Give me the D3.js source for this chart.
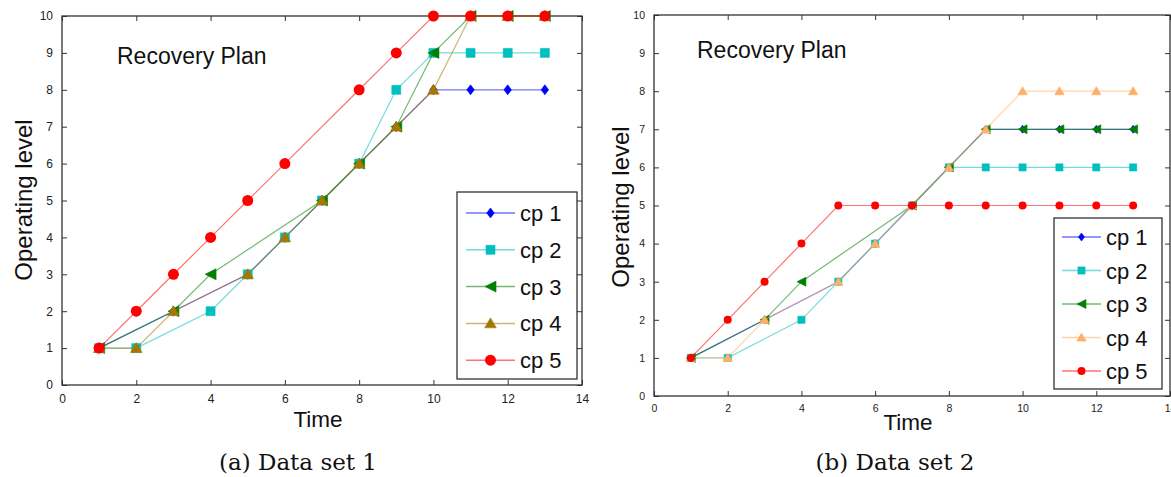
<!DOCTYPE html>
<html>
<head>
<meta charset="utf-8">
<script src="https://cdn.jsdelivr.net/npm/d3@7"></script>
<style>
  body { margin: 0; background: #fff; }
  svg { display: block; }
</style>
</head>
<body>
<script>
// time steps shared by both data sets (null = no point at that step)
var times = [1, 2, 3, 4, 5, 6, 7, 8, 9, 10, 11, 12, 13];
var seriesNames = ["cp 1", "cp 2", "cp 3", "cp 4", "cp 5"];
var xTicks = [0, 2, 4, 6, 8, 10, 12, 14];
var yTicks = [0, 1, 2, 3, 4, 5, 6, 7, 8, 9, 10];

// data set 1
var set1cp1 = [1, null, 2, null, 3, 4, 5, 6, 7, 8, 8, 8, 8];
var set1cp2 = [1, 1, null, 2, 3, 4, 5, 6, 8, 9, 9, 9, 9];
var set1cp3 = [1, null, 2, 3, null, null, 5, 6, 7, 9, 10, 10, 10];
var set1cp4 = [1, 1, 2, null, 3, 4, 5, 6, 7, 8, 10, 10, 10];
var set1cp5 = [1, 2, 3, 4, 5, 6, null, 8, 9, 10, 10, 10, 10];

// data set 2
var set2cp1 = [1, null, 2, null, 3, 4, 5, 6, 7, 7, 7, 7, 7];
var set2cp2 = [1, 1, null, 2, 3, 4, 5, 6, 6, 6, 6, 6, 6];
var set2cp3 = [1, null, 2, 3, null, null, 5, 6, 7, 7, 7, 7, 7];
var set2cp4 = [1, 1, 2, null, 3, 4, 5, 6, 7, 8, 8, 8, 8];
var set2cp5 = [1, 2, 3, 4, 5, 5, 5, 5, 5, 5, 5, 5, 5];

var shapes = ["diamond", "square", "left", "up", "circle"];

var svg = d3.select("body").append("svg")
    .attr("width", 1171)
    .attr("height", 477);

// marker path for a shape of half-size s
function markerPath(shape, s) {
  if (shape == "diamond") return "M0," + (-s) + "L" + (s * 0.75) + ",0L0," + s + "L" + (-s * 0.75) + ",0Z";
  if (shape == "square") return "M" + (-s) + "," + (-s) + "H" + s + "V" + s + "H" + (-s) + "Z";
  if (shape == "left") return "M" + (-s) + ",0L" + s + "," + (-s) + "L" + s + "," + s + "Z";
  if (shape == "up") return "M0," + (-s) + "L" + (s * 1.05) + "," + (s * 0.8) + "L" + (-s * 1.05) + "," + (s * 0.8) + "Z";
  return d3.path().toString();
}

function drawMarker(g, shape, x, y, size, color) {
  if (shape == "circle") {
    g.append("circle").attr("cx", x).attr("cy", y).attr("r", size)
     .attr("fill", color);
  } else {
    g.append("path")
     .attr("d", markerPath(shape, size))
     .attr("transform", "translate(" + x + "," + y + ")")
     .attr("fill", color)
     .attr("stroke", color).attr("stroke-width", 0.6);
  }
}

function drawPanel(cfg) {
  var x = d3.scaleLinear().domain([0, 14]).range([cfg.left, cfg.right]);
  var y = d3.scaleLinear().domain([0, 10]).range([cfg.bottom, cfg.top]);
  var g = svg.append("g");

  // axes with inward ticks on all four sides
  var tickFont = cfg.tickFont + "px 'Liberation Sans', Arial, sans-serif";
  var bottomAxis = g.append("g").attr("transform", "translate(0," + cfg.bottom + ")")
      .call(d3.axisBottom(x).tickValues(xTicks).tickSizeInner(-5).tickSizeOuter(0).tickPadding(9));
  var leftAxis = g.append("g").attr("transform", "translate(" + cfg.left + ",0)")
      .call(d3.axisLeft(y).tickValues(yTicks).tickSizeInner(-5).tickSizeOuter(0).tickPadding(9));
  var topAxis = g.append("g").attr("transform", "translate(0," + cfg.top + ")")
      .call(d3.axisTop(x).tickValues(xTicks).tickSizeInner(-5).tickSizeOuter(0).tickFormat(""));
  var rightAxis = g.append("g").attr("transform", "translate(" + cfg.right + ",0)")
      .call(d3.axisRight(y).tickValues(yTicks).tickSizeInner(-5).tickSizeOuter(0).tickFormat(""));
  [bottomAxis, leftAxis, topAxis, rightAxis].forEach(function(a) {
    a.select(".domain").remove();
    a.selectAll("line").attr("stroke", "#333");
    a.selectAll("text").style("font", tickFont).attr("fill", "#222");
  });
  g.append("rect")
   .attr("x", cfg.left).attr("y", cfg.top)
   .attr("width", cfg.right - cfg.left).attr("height", cfg.bottom - cfg.top)
   .attr("fill", "none").attr("stroke", "#333").attr("stroke-width", 1.3);

  var line = d3.line()
      .x(function(d) { return x(d.t); })
      .y(function(d) { return y(d.v); });

  // lines first then markers, series in order
  cfg.series.forEach(function(vals, i) {
    var pts = [];
    vals.forEach(function(v, j) { if (v != null) pts.push({t: times[j], v: v}); });
    g.append("path").datum(pts)
     .attr("d", line)
     .attr("fill", "none")
     .attr("stroke", cfg.colors[i])
     .attr("stroke-opacity", 0.55)
     .attr("stroke-width", 1.2);
    pts.forEach(function(p) {
      drawMarker(g, shapes[i], x(p.t), y(p.v), cfg.markerSize[i], cfg.colors[i]);
    });
  });

  // title inside the axes
  g.append("text")
   .attr("x", cfg.titleX).attr("y", cfg.titleY)
   .style("font", "23px 'Liberation Sans', Arial, sans-serif")
   .attr("fill", "#111")
   .text("Recovery Plan");

  // axis labels
  g.append("text")
   .attr("x", cfg.timeX).attr("y", cfg.timeY)
   .attr("text-anchor", "middle")
   .style("font", "22.5px 'Liberation Sans', Arial, sans-serif")
   .attr("fill", "#111")
   .text("Time");
  g.append("text")
   .attr("transform", "translate(" + cfg.ylabX + "," + cfg.ylabY + ")rotate(-90)")
   .attr("text-anchor", "middle")
   .style("font", "24px 'Liberation Sans', Arial, sans-serif")
   .attr("fill", "#111")
   .text("Operating level");

  // legend box
  var lg = cfg.legend;
  g.append("rect")
   .attr("x", lg.x).attr("y", lg.y).attr("width", lg.w).attr("height", lg.h)
   .attr("fill", "#fff").attr("stroke", "#222").attr("stroke-width", 1.2);
  seriesNames.forEach(function(name, i) {
    var ry = lg.row0 + i * lg.step;
    g.append("line")
     .attr("x1", lg.line0).attr("x2", lg.line1).attr("y1", ry).attr("y2", ry)
     .attr("stroke", cfg.colors[i]).attr("stroke-opacity", 0.55).attr("stroke-width", 1.5);
    drawMarker(g, shapes[i], (lg.line0 + lg.line1) / 2, ry, cfg.markerSize[i], cfg.colors[i]);
    g.append("text")
     .attr("x", lg.textX).attr("y", ry + 8)
     .style("font", "22px 'Liberation Sans', Arial, sans-serif")
     .attr("fill", "#111")
     .text(name);
  });

  // caption under the panel
  svg.append("text")
   .attr("x", cfg.capX).attr("y", 470)
   .attr("text-anchor", "middle")
   .style("font", "23px 'DejaVu Serif', serif")
   .attr("fill", "#111")
   .text(cfg.caption);
}

drawPanel({
  left: 62, right: 582, top: 16, bottom: 385,
  tickFont: 12,
  series: [set1cp1, set1cp2, set1cp3, set1cp4, set1cp5],
  colors: ["#0000ff", "#00bfbf", "#007f00", "#a57800", "#ff0000"],
  markerSize: [5, 4.5, 5.5, 5.5, 5.5],
  titleX: 117, titleY: 64,
  timeX: 318, timeY: 427,
  ylabX: 32, ylabY: 200,
  legend: {x: 457, y: 192, w: 120, h: 187, row0: 213, step: 36.8, line0: 466, line1: 515, textX: 520},
  capX: 298, caption: "(a) Data set 1"
});

drawPanel({
  left: 654, right: 1170, top: 15, bottom: 396,
  tickFont: 10.5,
  series: [set2cp1, set2cp2, set2cp3, set2cp4, set2cp5],
  colors: ["#0000ff", "#00bfbf", "#007f00", "#ffb066", "#ff0000"],
  markerSize: [4, 3.6, 4.5, 4.5, 4],
  titleX: 697, titleY: 58,
  timeX: 908, timeY: 430,
  ylabX: 629, ylabY: 207,
  legend: {x: 1054, y: 218, w: 108, h: 171, row0: 237, step: 33.5, line0: 1062, line1: 1101, textX: 1106},
  capX: 895, caption: "(b) Data set 2"
});
</script>
</body>
</html>
